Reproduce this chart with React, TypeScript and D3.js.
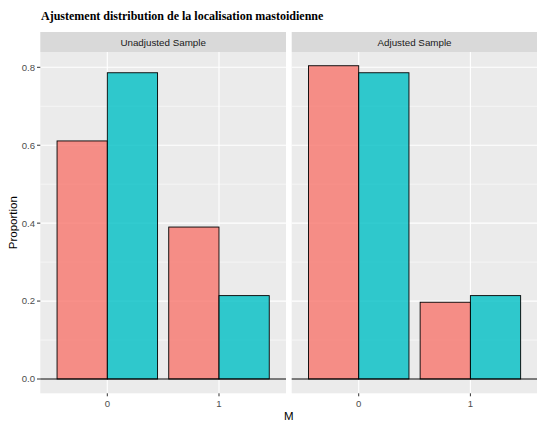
import React from "react";
import * as d3 from "d3";

const panels = ["Unadjusted Sample", "Adjusted Sample"];
const categories = ["0", "1"];
const groups = ["a", "b"];
const unadjusted = [
  [0.611, 0.786],
  [0.39, 0.214],
];
const adjusted = [
  [0.804, 0.786],
  [0.197, 0.214],
];
const panelValues = [unadjusted, adjusted];
const yTicks = [0, 0.2, 0.4, 0.6, 0.8];
const yMinor = [0.1, 0.3, 0.5, 0.7];
const fills = ["#F8766D", "#00BFC4"];

export default function App() {
  const W = 537,
    H = 425;
  const panelTop = 52,
    panelBottom = 393.3;
  const stripTop = 32;
  const panelX = [
    [40.3, 286],
    [291.7, 537.4],
  ];
  const y = d3.scaleLinear().domain([0, 0.8]).range([379, 67.3]);
  const font = "'Liberation Sans', Arial, sans-serif";

  return (
    <svg
      width={W}
      height={H}
      style={{ position: "absolute", left: 0, top: 0, background: "#fff" }}
      fontFamily={font}
    >
      <text
        x={41}
        y={20}
        fontFamily="'Liberation Serif', 'Times New Roman', serif"
        fontWeight="bold"
        fontSize={12}
        fill="#000"
      >
        Ajustement distribution de la localisation mastoidienne
      </text>
      {panels.map((name, pi) => {
        const [x0, x1] = panelX[pi];
        const step = (x1 - x0) / 2.2;
        const cx = (i: number) => x0 + step * (0.6 + i);
        const bw = step * 0.9;
        const sub = d3.scaleBand().domain(groups).range([0, bw]);
        const vals = panelValues[pi];
        return (
          <g key={name}>
            <rect x={x0} y={stripTop} width={x1 - x0} height={panelTop - stripTop} fill="#D9D9D9" />
            <text
              x={(x0 + x1) / 2}
              y={45.8}
              textAnchor="middle"
              fontSize={9.8}
              fill="#1A1A1A"
            >
              {name}
            </text>
            <rect x={x0} y={panelTop} width={x1 - x0} height={panelBottom - panelTop} fill="#EBEBEB" />
            {yMinor.map((t) => (
              <line key={"m" + t} x1={x0} x2={x1} y1={y(t)} y2={y(t)} stroke="#fff" strokeWidth={0.55} />
            ))}
            {yTicks.map((t) => (
              <line key={"M" + t} x1={x0} x2={x1} y1={y(t)} y2={y(t)} stroke="#fff" strokeWidth={1.1} />
            ))}
            {categories.map((c, i) => (
              <line key={"v" + c} x1={cx(i)} x2={cx(i)} y1={panelTop} y2={panelBottom} stroke="#fff" strokeWidth={1.1} />
            ))}
            {categories.map((c, i) =>
              groups.map((g, gi) => {
                const v = vals[i][gi];
                const bx = cx(i) - bw / 2 + (sub(g) as number);
                return (
                  <rect
                    key={c + g}
                    x={bx}
                    y={y(v)}
                    width={sub.bandwidth()}
                    height={y(0) - y(v)}
                    fill={fills[gi]}
                    fillOpacity={0.8}
                    stroke="#000"
                    strokeWidth={0.9}
                  />
                );
              })
            )}
            <line x1={x0} x2={x1} y1={y(0)} y2={y(0)} stroke="#000" strokeWidth={1} />
            {categories.map((c, i) => (
              <g key={"xt" + c}>
                <line x1={cx(i)} x2={cx(i)} y1={panelBottom} y2={panelBottom + 3} stroke="#333" strokeWidth={1} />
                <text x={cx(i)} y={407.3} textAnchor="middle" fontSize={9.6} fill="#4D4D4D">
                  {c}
                </text>
              </g>
            ))}
          </g>
        );
      })}
      {yTicks.map((t) => (
        <g key={"yt" + t}>
          <line x1={37} x2={40.3} y1={y(t)} y2={y(t)} stroke="#333" strokeWidth={1} />
          <text x={35} y={y(t) + 3.4} textAnchor="end" fontSize={9.6} fill="#4D4D4D">
            {d3.format(".1f")(t)}
          </text>
        </g>
      ))}
      <text
        transform={`translate(17,${(panelTop + panelBottom) / 2}) rotate(-90)`}
        textAnchor="middle"
        fontSize={11.5}
        fill="#000"
      >
        Proportion
      </text>
      <text x={288.8} y={420} textAnchor="middle" fontSize={11.5} fill="#000">
        M
      </text>
    </svg>
  );
}
